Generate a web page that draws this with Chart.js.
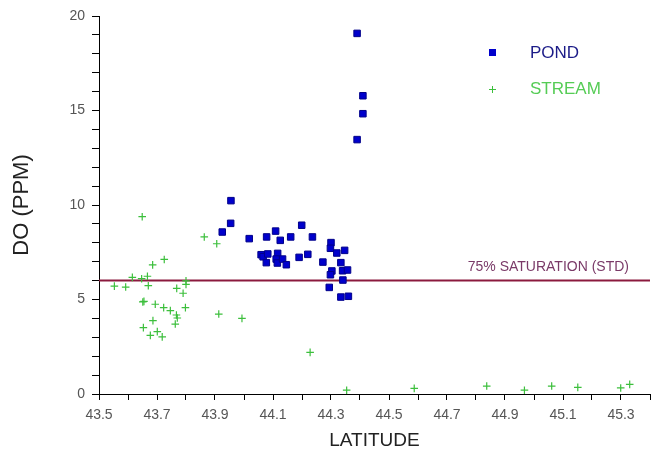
<!DOCTYPE html>
<html>
<head>
<meta charset="utf-8">
<script src="https://cdn.jsdelivr.net/npm/chart.js@4.4.1/dist/chart.umd.min.js"></script>
<style>
html,body{margin:0;padding:0;background:#fff;}
#wrap{width:658px;height:455px;position:relative;}
</style>
</head>
<body>
<div id="wrap"><canvas id="c" width="658" height="455"></canvas></div>
<script>
// Data
const pondLatitude = [44.39,44.41,44.41,44.39,43.955,43.954,43.925,44.018,44.078,44.109,44.125,44.161,44.199,44.236,44.059,44.066,44.082,44.077,44.116,44.111,44.115,44.133,44.146,44.19,44.22,44.272,44.30,44.298,44.32,44.347,44.334,44.303,44.298,44.34,44.357,44.341,44.294,44.334,44.36];
const pondDO = [19.08,15.78,14.83,13.46,10.23,9.03,8.57,8.22,8.31,8.62,8.13,8.31,8.93,8.31,7.37,7.26,7.41,6.95,7.44,7.14,6.93,7.14,6.84,7.23,7.39,6.98,8.01,7.71,7.46,7.60,6.95,6.51,6.31,6.52,6.56,6.03,5.64,5.13,5.17];
const streamLatitude = [43.649,43.863,43.906,43.725,43.685,43.615,43.647,43.667,43.553,43.592,43.670,43.80,43.80,43.768,43.79,43.655,43.651,43.694,43.723,43.746,43.798,43.767,43.77,43.686,43.763,43.653,43.701,43.677,43.718,43.913,43.993,44.228,44.354,44.587,44.837,44.967,45.061,45.151,45.299,45.33];
const streamDO = [9.38,8.31,7.95,7.12,6.83,6.17,6.10,6.23,5.71,5.66,5.73,5.99,5.80,5.59,5.33,4.90,4.87,4.75,4.57,4.41,4.57,4.18,4.02,3.88,3.70,3.51,3.30,3.10,3.02,4.23,4.00,2.20,0.20,0.30,0.42,0.20,0.42,0.35,0.32,0.51];
const seriesNames = ["POND", "STREAM"];
const standardDO = 6.0;
const standardLabel = "75% SATURATION (STD)";
const xTitle = "LATITUDE";
const yTitle = "DO (PPM)";
const xMin = 43.5, xMax = 45.4, xStep = 0.1;
const yMin = 0, yMax = 20, yStep = 1;

const pondPoints = pondLatitude.map((x, i) => ({x: x, y: pondDO[i]}));
const streamPoints = streamLatitude.map((x, i) => ({x: x, y: streamDO[i]}));

const FONT = "'Liberation Sans', Arial, sans-serif";

const overlayPlugin = {
  id: 'overlay',
  beforeDatasetsDraw(chart) {
    const {ctx, chartArea, scales} = chart;
    const yv = scales.y.getPixelForValue(standardDO);
    ctx.save();
    ctx.strokeStyle = '#8b1a3e';
    ctx.lineWidth = 2;
    ctx.beginPath();
    ctx.moveTo(chartArea.left, yv);
    ctx.lineTo(chartArea.right, yv);
    ctx.stroke();
    ctx.fillStyle = '#7a3a68';
    ctx.font = "14px " + FONT;
    ctx.textAlign = 'right';
    ctx.textBaseline = 'middle';
    ctx.fillText(standardLabel, 629, yv - 13);
    ctx.restore();
  },
  afterDraw(chart) {
    const {ctx} = chart;
    ctx.save();
    // legend
    ctx.fillStyle = '#0000cc';
    ctx.fillRect(489, 49, 7, 7);
    ctx.strokeStyle = '#3cbf3c';
    ctx.lineWidth = 1;
    ctx.beginPath();
    ctx.moveTo(489, 89.5); ctx.lineTo(496, 89.5);
    ctx.moveTo(492.5, 86); ctx.lineTo(492.5, 93);
    ctx.stroke();
    ctx.font = "17px " + FONT;
    ctx.textAlign = 'left';
    ctx.textBaseline = 'middle';
    ctx.fillStyle = '#1c1c88';
    ctx.fillText(seriesNames[0], 530, 53);
    ctx.fillStyle = '#55cc55';
    ctx.fillText(seriesNames[1], 530, 89);
    ctx.restore();
  }
};

new Chart(document.getElementById('c'), {
  type: 'scatter',
  data: {
    datasets: [
      {
        label: seriesNames[0],
        data: pondPoints,
        pointStyle: 'rect',
        pointRadius: 4.6,
        pointHoverRadius: 4.6,
        backgroundColor: '#0000cc',
        borderColor: '#00008a',
        borderWidth: 1
      },
      {
        label: seriesNames[1],
        data: streamPoints,
        pointStyle: 'cross',
        pointRadius: 3.8,
        pointHoverRadius: 3.8,
        backgroundColor: '#3cbf3c',
        borderColor: '#3cbf3c',
        borderWidth: 1.2
      }
    ]
  },
  options: {
    responsive: false,
    animation: false,
    events: [],
    layout: {padding: {top: 16, right: 8, bottom: 0, left: 0}},
    plugins: {legend: {display: false}, tooltip: {enabled: false}},
    scales: {
      x: {
        type: 'linear',
        min: xMin, max: xMax,
        afterFit(s) { s.height = 61; },
        border: {display: true, color: '#000', width: 1},
        grid: {display: true, drawOnChartArea: false, drawTicks: true, tickLength: 6, color: '#000'},
        ticks: {
          stepSize: xStep,
          autoSkip: false,
          maxRotation: 0,
          padding: 7,
          color: '#555',
          font: {family: FONT, size: 14},
          callback(v) {
            const t = Math.round(v * 10);
            return (t % 2 === 1) ? (t / 10).toFixed(1) : '';
          }
        },
        title: {
          display: true, text: xTitle, color: '#222',
          font: {family: FONT, size: 19},
          padding: {top: 0, bottom: 3}
        }
      },
      y: {
        type: 'linear',
        min: yMin, max: yMax,
        afterFit(s) { s.width = 99; },
        border: {display: true, color: '#000', width: 1},
        grid: {display: true, drawOnChartArea: false, drawTicks: true, tickLength: 7, color: '#000'},
        ticks: {
          stepSize: yStep,
          autoSkip: false,
          padding: 7,
          color: '#555',
          font: {family: FONT, size: 14},
          callback(v) { return (Math.round(v) % 5 === 0) ? String(Math.round(v)) : ''; }
        },
        title: {
          display: true, text: yTitle, color: '#222',
          font: {family: FONT, size: 22},
          padding: {top: 9, bottom: 0}
        }
      }
    }
  },
  plugins: [overlayPlugin]
});
</script>
</body>
</html>
